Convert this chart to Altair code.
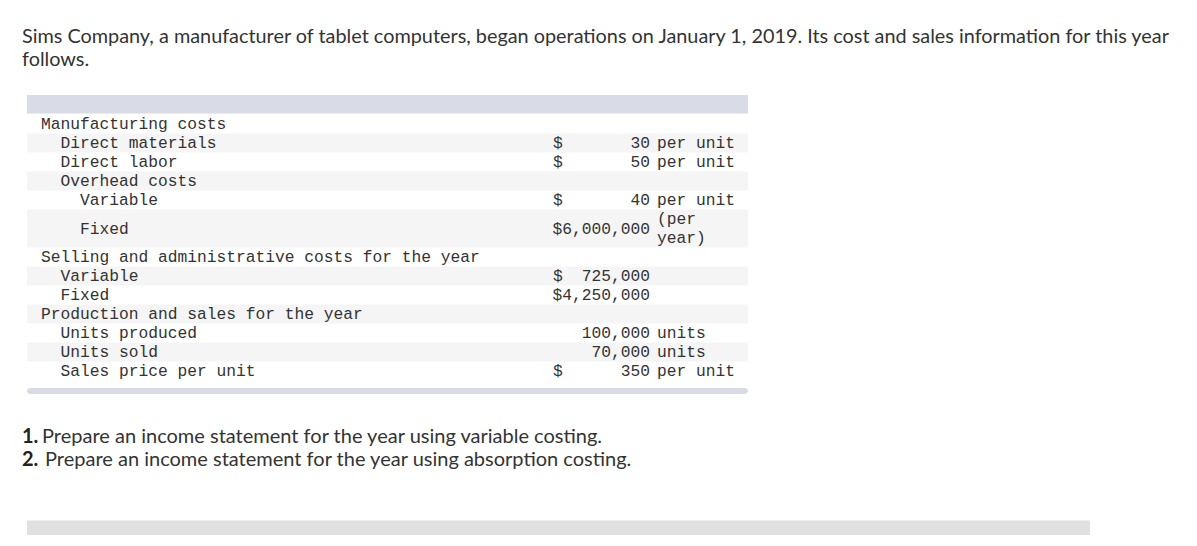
import altair as alt
import pandas as pd

# ---------------- data ----------------
title_lines = [
    "Sims Company, a manufacturer of tablet computers, began operations on January 1, 2019. Its cost and sales information for this year",
    "follows.",
]
question_numbers = ["1.", "2."]
question_texts = [
    "Prepare an income statement for the year using variable costing.",
    "Prepare an income statement for the year using absorption costing.",
]

row_line = [0, 1, 2, 3, 4, 5.5, 7, 8, 9, 10, 11, 12, 13]
row_indent = [0, 1, 1, 1, 2, 2, 0, 1, 1, 0, 1, 1, 1]
row_label = [
    "Manufacturing costs",
    "Direct materials",
    "Direct labor",
    "Overhead costs",
    "Variable",
    "Fixed",
    "Selling and administrative costs for the year",
    "Variable",
    "Fixed",
    "Production and sales for the year",
    "Units produced",
    "Units sold",
    "Sales price per unit",
]
row_dollar = ["", "$", "$", "", "$", "", "", "$", "", "", "", "", "$"]
row_amount = ["", "30", "50", "", "40", "$6,000,000", "", "725,000", "$4,250,000",
              "", "100,000", "70,000", "350"]
unit_line = [1, 2, 4, 5, 6, 11, 12, 13]
unit_text = ["per unit", "per unit", "per unit", "(per", "year)", "units", "units", "per unit"]

# shaded (alternating) rows: start / end in line units
stripe_start = [0.5, 2.5, 4.5, 7.5, 9.5, 11.5]
stripe_end = [1.5, 3.5, 6.5, 8.5, 10.5, 12.5]

# ---------------- frames ----------------
rows = pd.DataFrame({"line": row_line, "indent": row_indent, "label": row_label,
                     "dollar": row_dollar, "amount": row_amount})
units = pd.DataFrame({"line": unit_line, "unit": unit_text})
stripes = pd.DataFrame({"y0": stripe_start, "y1": stripe_end})
dummy = pd.DataFrame({"k": [0]})

W, H = 1181, 530
yscale = alt.Scale(domain=[-116 / 19, 414 / 19], reverse=True, nice=False, zero=False)
Y = lambda f: alt.Y(f"{f}:Q", scale=yscale, axis=None)

MONO = "Liberation Mono"
SANS = "Lato"
TXT = "#333333"
mono_size = 16.25

stripe_layer = alt.Chart(stripes).mark_rect(color="#f5f5f5").encode(
    x=alt.value(19), x2=alt.value(740), y=Y("y0"), y2=alt.Y2("y1:Q")
)
header_layer = alt.Chart(dummy).mark_rect(color="#d9dce6").encode(
    x=alt.value(19), x2=alt.value(740), y=alt.value(87), y2=alt.value(105.5)
)
footer_layer = alt.Chart(dummy).mark_rect(color="#d9dce6", cornerRadius=3).encode(
    x=alt.value(19), x2=alt.value(740), y=alt.value(380), y2=alt.value(386)
)
answer_bar = alt.Chart(dummy).mark_rect(color="#e0e0e0").encode(
    x=alt.value(19), x2=alt.value(1082), y=alt.value(512.5), y2=alt.value(527)
)

def mono(data, align, xpx, field):
    return alt.Chart(data).mark_text(
        align=align, baseline="middle", font=MONO, fontSize=mono_size, color=TXT
    ).encode(x=alt.value(xpx), y=Y("line"), text=f"{field}:N")

label_layers = [
    mono(rows, "left", 33 + 19.5 * k, "label").transform_filter(alt.datum.indent == k)
    for k in range(3)
]
dollar_layer = mono(rows, "left", 545, "dollar")
amount_layer = mono(rows, "right", 642, "amount")
unit_layer = mono(units, "left", 649, "unit")

title_layer = alt.Chart(dummy).mark_text(
    align="left", baseline="alphabetic", font=SANS, fontSize=19.85, color=TXT, lineHeight=22.5
).encode(x=alt.value(14), y=alt.value(35), text=alt.value(title_lines))

q_layers = []
for i, (num, txt) in enumerate(zip(question_numbers, question_texts)):
    yb = 434.5 + 23 * i
    q_layers.append(
        alt.Chart(dummy).mark_text(
            align="left", baseline="alphabetic", font=SANS, fontSize=20,
            fontWeight="bold", color="#222222"
        ).encode(x=alt.value(14), y=alt.value(yb), text=alt.value(num))
    )
    q_layers.append(
        alt.Chart(dummy).mark_text(
            align="left", baseline="alphabetic", font=SANS, fontSize=20, color=TXT
        ).encode(x=alt.value(34 + 3 * i), y=alt.value(yb), text=alt.value(txt))
    )

chart = alt.layer(
    stripe_layer, header_layer, footer_layer, answer_bar,
    *label_layers, dollar_layer, amount_layer, unit_layer,
    title_layer, *q_layers
).properties(
    width=W, height=H, autosize=alt.AutoSizeParams(type="none"), padding=0
).configure_view(stroke=None)

chart.save("out.html", embed_options={"renderer": "svg", "actions": False})
